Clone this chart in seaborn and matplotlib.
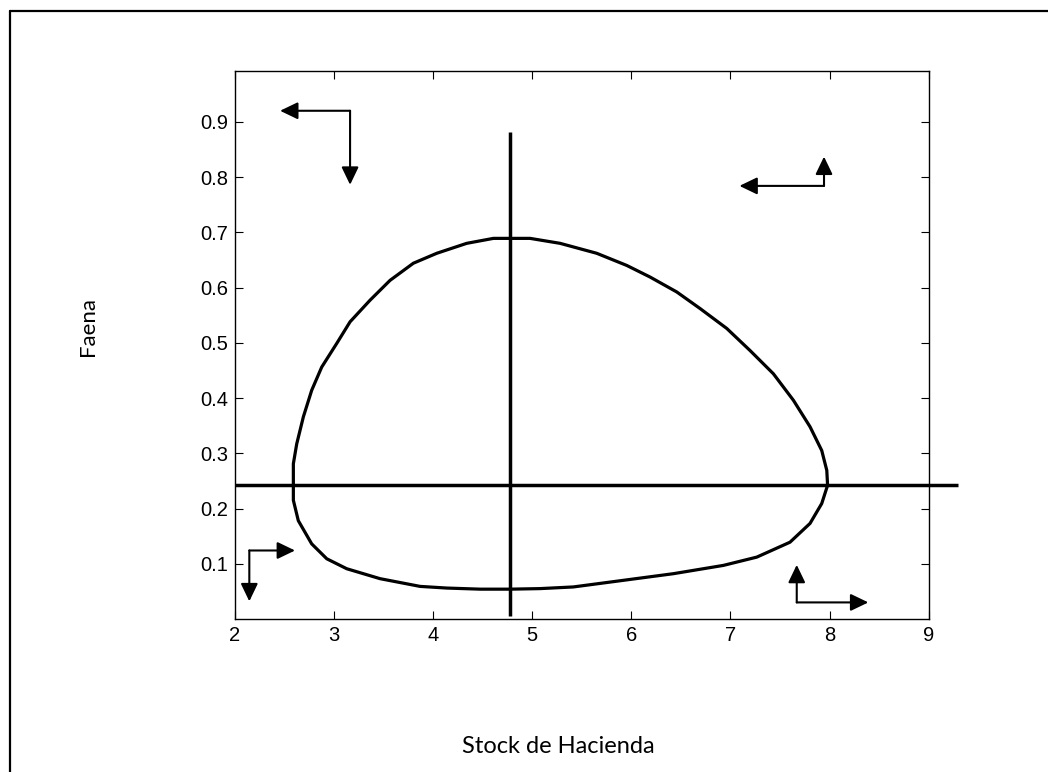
import matplotlib
matplotlib.use("Agg")
import matplotlib.pyplot as plt
from matplotlib.lines import Line2D
import seaborn as sns
import pandas as pd

# ---- data ----
loop_x = [2.593, 2.593, 2.627, 2.694, 2.778, 2.879, 3.031, 3.165, 3.366, 3.568,
          3.803, 4.039, 4.341, 4.610, 4.778, 4.980, 5.283, 5.652, 5.955, 6.190,
          6.459, 6.694, 6.963, 7.198, 7.433, 7.635, 7.803, 7.921, 7.972, 7.980,
          7.921, 7.803, 7.601, 7.266, 6.929, 6.425, 5.921, 5.416, 5.081, 4.778,
          4.476, 4.140, 3.871, 3.467, 3.131, 2.930, 2.778, 2.643, 2.593, 2.593]
loop_y = [0.242, 0.281, 0.317, 0.366, 0.414, 0.456, 0.499, 0.538, 0.577, 0.613,
          0.644, 0.662, 0.680, 0.689, 0.689, 0.689, 0.680, 0.662, 0.640, 0.619,
          0.592, 0.562, 0.526, 0.486, 0.444, 0.396, 0.348, 0.305, 0.269, 0.242,
          0.209, 0.173, 0.139, 0.112, 0.097, 0.082, 0.070, 0.058, 0.055, 0.054,
          0.054, 0.056, 0.059, 0.073, 0.091, 0.109, 0.136, 0.178, 0.215, 0.242]

# equilibrium lines (isoclines)
hline_y = 0.242
hline_x = [2.0, 9.3]
vline_x = 4.778
vline_y = [0.005, 0.882]

# direction arrows: corner point, horizontal tip x, vertical tip y
arrow_corner_x = [3.165, 7.944, 2.149, 7.669]
arrow_corner_y = [0.920, 0.784, 0.124, 0.030]
arrow_htip_x = [2.459, 7.091, 2.610, 8.391]
arrow_vtip_y = [0.786, 0.837, 0.032, 0.098]

x_ticks = [2, 3, 4, 5, 6, 7, 8, 9]
y_ticks = [0.1, 0.2, 0.3, 0.4, 0.5, 0.6, 0.7, 0.8, 0.9]
x_label = "Stock de Hacienda"
y_label = "Faena"

# ---- style ----
sns.set_theme(style="ticks")
plt.rcParams["font.family"] = ["Liberation Sans", "DejaVu Sans"]

fig = plt.figure(figsize=(10.48, 7.72), dpi=100)
fig.patch.set_facecolor("white")
ax = fig.add_axes([0.2238, 0.1982, 0.6624, 0.7102])
ax.set_facecolor("white")

df = pd.DataFrame({"x": loop_x, "y": loop_y})
sns.lineplot(data=df, x="x", y="y", sort=False, estimator=None,
             color="black", lw=2.3, ax=ax, solid_joinstyle="round")

ax.plot(hline_x, [hline_y, hline_y], color="black", lw=2.5, clip_on=False,
        solid_capstyle="butt")
ax.plot([vline_x, vline_x], vline_y, color="black", lw=2.5, clip_on=False,
        solid_capstyle="butt")

astyle = dict(arrowstyle="-|>,head_length=0.54,head_width=0.26",
              color="black", lw=1.5, shrinkA=0, shrinkB=0, mutation_scale=20)
for cx, cy, hx, vy in zip(arrow_corner_x, arrow_corner_y, arrow_htip_x, arrow_vtip_y):
    ax.annotate("", xy=(hx, cy), xytext=(cx, cy), arrowprops=astyle)
    ax.annotate("", xy=(cx, vy), xytext=(cx, cy), arrowprops=astyle)

ax.set_xlim(2, 9)
ax.set_ylim(0, 0.9925)
ax.set_xticks(x_ticks)
ax.set_xticklabels([str(t) for t in x_ticks])
ax.set_yticks(y_ticks)
ax.set_yticklabels([f"{t:.1f}" for t in y_ticks])
ax.tick_params(direction="in", length=6, width=0.8, color="black",
               top=True, right=True, labelsize=14.5, labelcolor="black")
ax.tick_params(axis="y", pad=4.5)
ax.tick_params(axis="x", pad=5)
for s in ax.spines.values():
    s.set_visible(True)
    s.set_color("black")
    s.set_linewidth(1.0)

ax.set_xlabel(x_label, fontsize=17, family=["Lato", "DejaVu Sans"], color="black")
ax.set_ylabel(y_label, fontsize=16, family=["Lato", "DejaVu Sans"], color="black")
ax.xaxis.label.set_va("center")
ax.yaxis.label.set_va("center")
ax.xaxis.set_label_coords(0.466, -0.232)
ax.yaxis.set_label_coords(-0.211, 0.534)

# outer document frame (left and top edges visible)
fig.add_artist(Line2D([10 / 1048, 10 / 1048], [0, 1 - 11 / 772],
                      transform=fig.transFigure, color="black", lw=1.6))
fig.add_artist(Line2D([10 / 1048, 1], [1 - 11 / 772, 1 - 11 / 772],
                      transform=fig.transFigure, color="black", lw=1.6))

fig.savefig("out.png", dpi=100, facecolor="white")
